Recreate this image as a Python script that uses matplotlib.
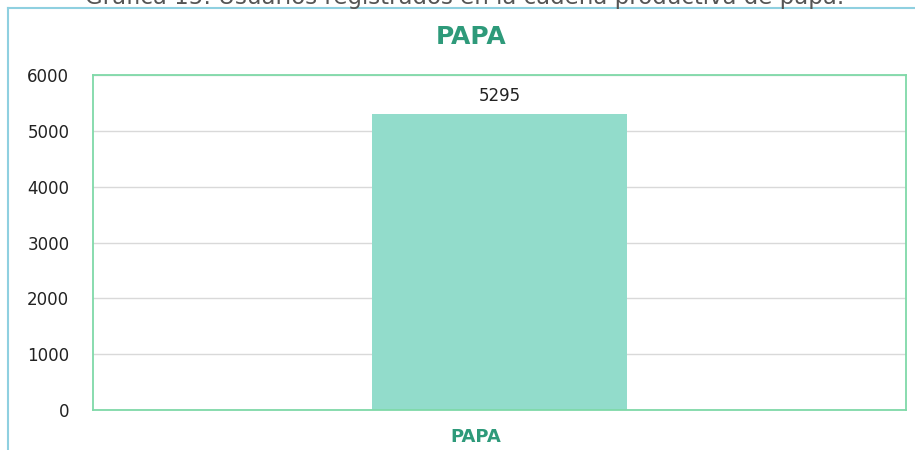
import matplotlib.pyplot as plt
from matplotlib.lines import Line2D
from matplotlib.transforms import ScaledTranslation

categorias = ['PAPA']
usuarios = [5295]
yticks = [0, 1000, 2000, 3000, 4000, 5000, 6000]

verde = '#2e9a7a'
barra = '#92dccb'
marco = '#7fd9a8'
azul = '#8fd0e0'

fig = plt.figure(figsize=(9.15, 4.5), dpi=100)
ax = fig.add_axes([0.1016, 0.0889, 0.8885, 0.7444])

x = range(len(categorias))
bars = ax.bar(x, usuarios, width=0.314, color=barra, zorder=2)
ax.set_xlim(-0.5, 0.5)
ax.set_ylim(0, 6000)
ax.set_yticks(yticks)
ax.set_xticks(list(x))
ax.set_xticklabels(categorias, color=verde, fontweight='bold', fontsize=13)
ax.tick_params(axis='y', length=0, pad=17, labelsize=12, labelcolor='#222222')
ax.tick_params(axis='x', length=0, pad=13)
# la etiqueta del eje x aparece algo desplazada a la izquierda
for lab in ax.get_xticklabels():
    lab.set_transform(lab.get_transform() + ScaledTranslation(-0.24, 0, fig.dpi_scale_trans))
ax.grid(axis='y', color='#d9d9d9', linewidth=1, zorder=1)
for s in ax.spines.values():
    s.set_color(marco)
    s.set_linewidth(1.3)

for b, v in zip(bars, usuarios):
    ax.annotate(str(v), (b.get_x() + b.get_width() / 2, v), xytext=(0, 7),
                textcoords='offset points', ha='center', va='bottom',
                fontsize=12, color='#222222')

fig.text(471 / 915, 1 - 37 / 450, 'PAPA', ha='center', va='center', color=verde,
         fontsize=18, fontweight='bold')

# titulo de la grafica recortado arriba
fig.text(465 / 915, 1 - 4 / 450, 'Gráfica 15: Usuarios registrados en la cadena productiva de papa.',
         ha='center', va='baseline', color='#555555', fontsize=16.5)

# marco exterior azul
fig.add_artist(Line2D([8 / 915, 1], [1 - 8 / 450, 1 - 8 / 450], color=azul, linewidth=1.5))
fig.add_artist(Line2D([8 / 915, 8 / 915], [0, 1 - 8 / 450], color=azul, linewidth=1.5))

fig.savefig('out.png', dpi=100)
